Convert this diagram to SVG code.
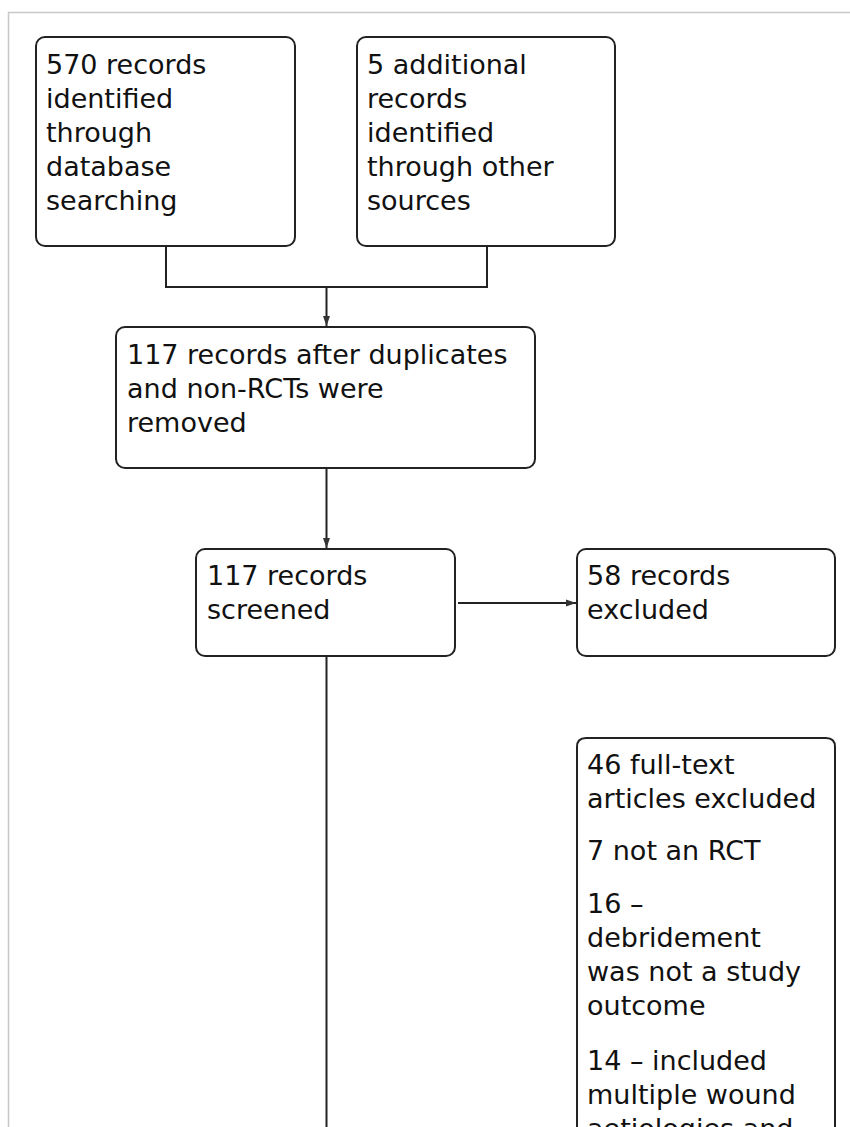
<svg xmlns="http://www.w3.org/2000/svg" width="850" height="1127" viewBox="0 0 850 1127">
<style>
.box{fill:#fff;stroke:#222;stroke-width:2}
.t{font-family:"DejaVu Sans","Liberation Sans",sans-serif;font-size:27px;fill:#111}
.c{fill:none;stroke:#222;stroke-width:2}
</style>
<defs>
<marker id="ah" markerWidth="10" markerHeight="8" refX="10" refY="4" orient="auto" markerUnits="userSpaceOnUse">
<path d="M0,0.5 L10,4 L0,7.5 z" fill="#333"/>
</marker>
</defs>
<rect width="850" height="1127" fill="#fff"/>
<path d="M8.5 1127 V12.5 H850" fill="none" stroke="#c8c8c8" stroke-width="1.5"/>
<g id="connectors">
<path class="c" d="M166 246 V287 H487 V246"/>
<path class="c" d="M326.5 287 V326" marker-end="url(#ah)"/>
<path class="c" d="M326.5 468 V548" marker-end="url(#ah)"/>
<path class="c" d="M458 603 H576" marker-end="url(#ah)"/>
<path class="c" d="M326.5 656 V1127"/>
</g>
<g id="n1">
<rect class="box" x="36" y="37" width="259" height="209" rx="9"/>
<text class="t" x="46"><tspan x="46" y="74">570 records</tspan><tspan x="46" y="108">identified</tspan><tspan x="46" y="142">through</tspan><tspan x="46" y="176">database</tspan><tspan x="46" y="210">searching</tspan></text>
</g>
<g id="n2">
<rect class="box" x="357" y="37" width="258" height="209" rx="9"/>
<text class="t"><tspan x="367" y="74">5 additional</tspan><tspan x="367" y="108">records</tspan><tspan x="367" y="142">identified</tspan><tspan x="367" y="176">through other</tspan><tspan x="367" y="210">sources</tspan></text>
</g>
<g id="n3">
<rect class="box" x="116" y="327" width="419" height="141" rx="9"/>
<text class="t"><tspan x="127" y="364">117 records after duplicates</tspan><tspan x="127" y="398">and non-RCTs were</tspan><tspan x="127" y="432">removed</tspan></text>
</g>
<g id="n4">
<rect class="box" x="196" y="549" width="259" height="107" rx="9"/>
<text class="t"><tspan x="207" y="585">117 records</tspan><tspan x="207" y="619">screened</tspan></text>
</g>
<g id="n5">
<rect class="box" x="577" y="549" width="258" height="107" rx="9"/>
<text class="t"><tspan x="587" y="585">58 records</tspan><tspan x="587" y="619">excluded</tspan></text>
</g>
<g id="n6">
<path class="box" d="M577 1140 V747 Q577 738 586 738 H826 Q835 738 835 747 V1140"/>
<text class="t"><tspan x="587" y="774">46 full-text</tspan><tspan x="587" y="808">articles excluded</tspan><tspan x="587" y="860">7 not an RCT</tspan><tspan x="587" y="913">16 –</tspan><tspan x="587" y="947">debridement</tspan><tspan x="587" y="981">was not a study</tspan><tspan x="587" y="1015">outcome</tspan><tspan x="587" y="1070">14 – included</tspan><tspan x="587" y="1104">multiple wound</tspan><tspan x="587" y="1138">aetiologies and</tspan></text>
</g>
</svg>
